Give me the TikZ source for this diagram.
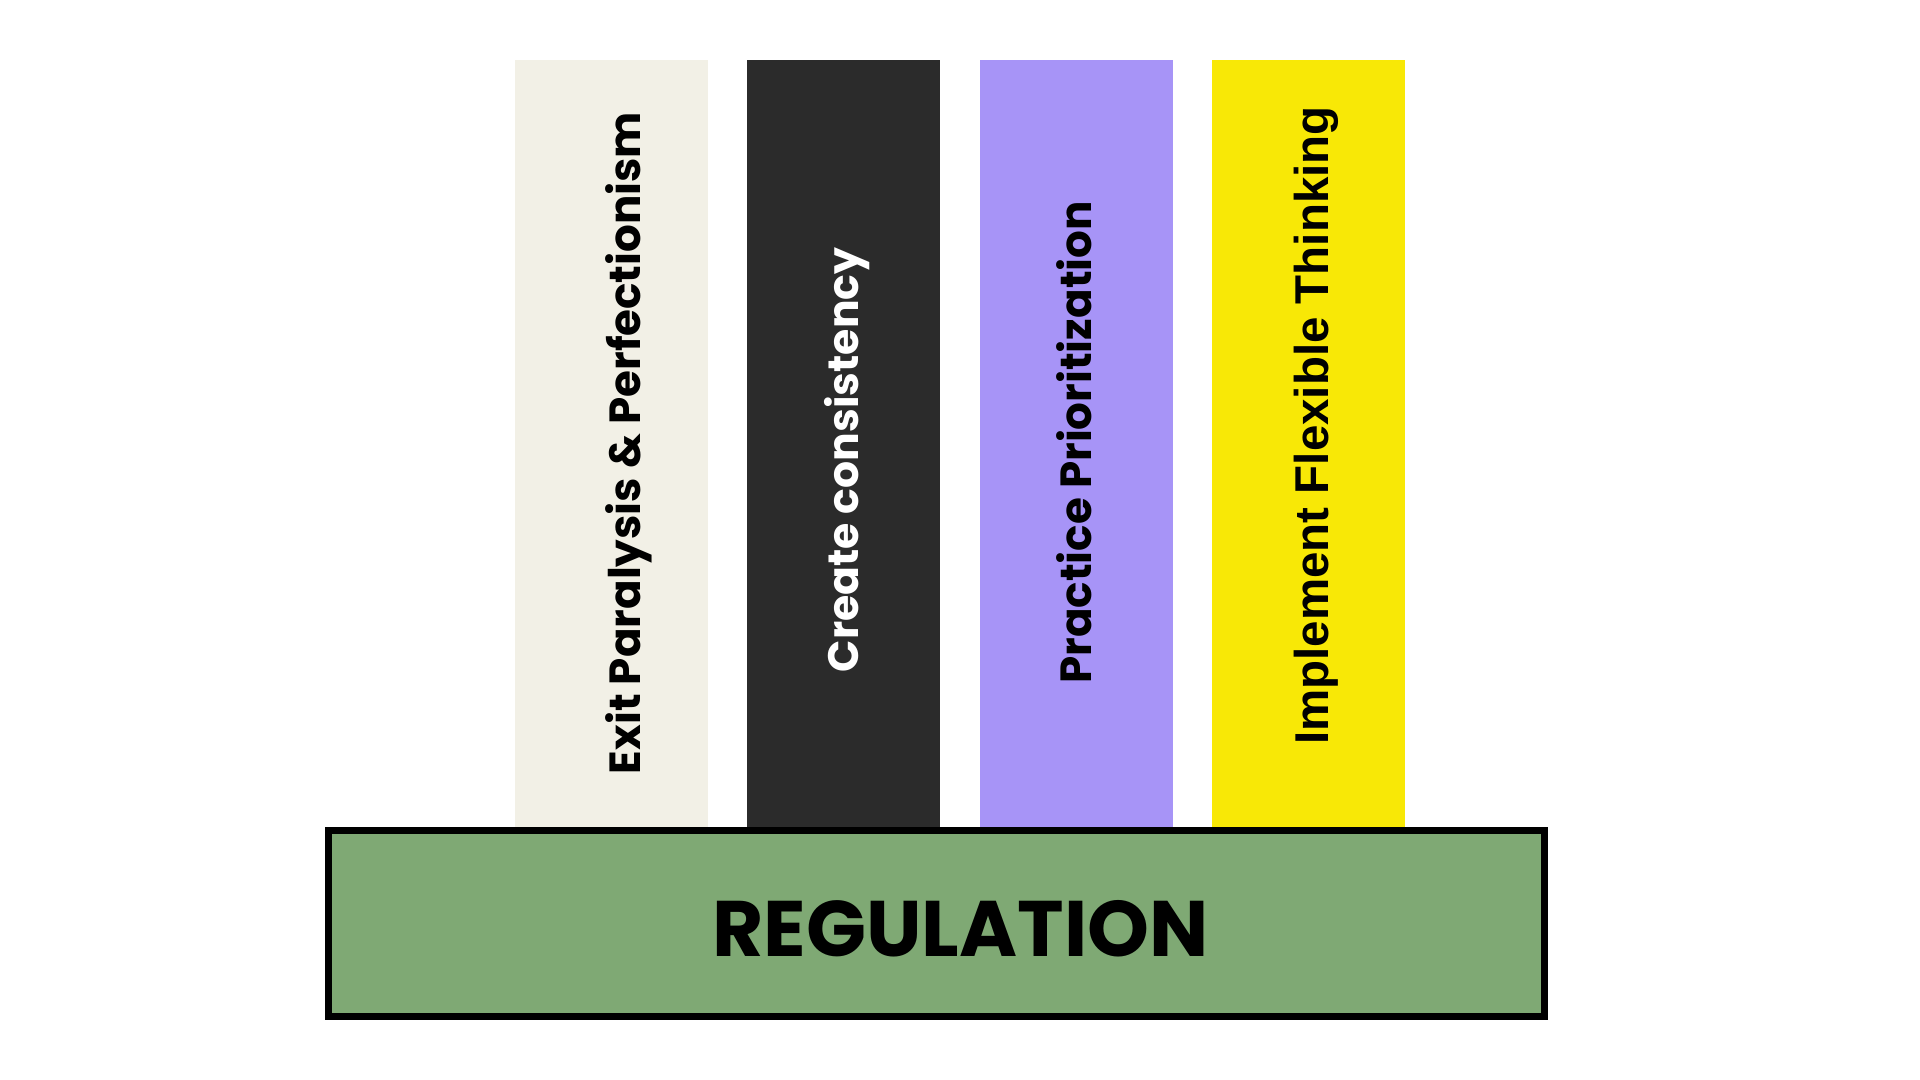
\documentclass[tikz,border=0pt]{standalone}
\usepackage{fontspec}
\setmainfont{Poppins}
\newfontfamily\arialfont{Liberation Sans}
\usepackage{tikz}
\usetikzlibrary{positioning}
\definecolor{paper}{HTML}{F2F0E6}
\definecolor{ink}{HTML}{2B2B2B}
\definecolor{lilac}{HTML}{A794F7}
\definecolor{lemon}{HTML}{F8E806}
\definecolor{sage}{HTML}{7FA974}

\begin{document}
\begin{tikzpicture}[x=0.01cm,y=0.01cm,
			node distance=3.93mm,
			pillar/.style={draw=none,minimum width=19.3mm,minimum height=76.67mm,inner sep=0pt,outer sep=0pt},
			ptext/.style={rotate=90,anchor=base,inner sep=0pt,font=\fontsize{12.4}{15}\selectfont\bfseries},
			basebox/.style={draw=black,line width=2pt,fill=sage,minimum width=121.6mm,minimum height=18.6mm,inner sep=0pt},
			]
			\useasboundingbox (0,0) rectangle (1920,1080);
			\node[pillar,fill=paper] (exit) at (611.5,636.6) {};
			\node[pillar,fill=ink,right=of exit] (consist) {};
			\node[pillar,fill=lilac,right=of consist] (prior) {};
			\node[pillar,fill=lemon,right=of prior] (flex) {};
			\node[basebox] (reg) at (936.5,156.5) {};
			\node[ptext] (exittxt) at (640,637) {Exit Paralysis \& Perfectionism};
			\node[ptext,text=white,font=\fontsize{12.1}{15}\selectfont\bfseries] (consisttxt) at (858,620) {Create consistency};
			\node[ptext] (priortxt) at (1091,637.5) {Practice Prioritization};
			\node[ptext,font=\arialfont\fontsize{13.5}{15}\selectfont\bfseries] (flextxt) at (1328,654.5) {Implement Flexible Thinking};
			\node[font=\fontsize{22.4}{26}\selectfont\bfseries,inner sep=0pt] (regtxt) at (960.5,151) {REGULATION};
		\end{tikzpicture}
\end{document}
